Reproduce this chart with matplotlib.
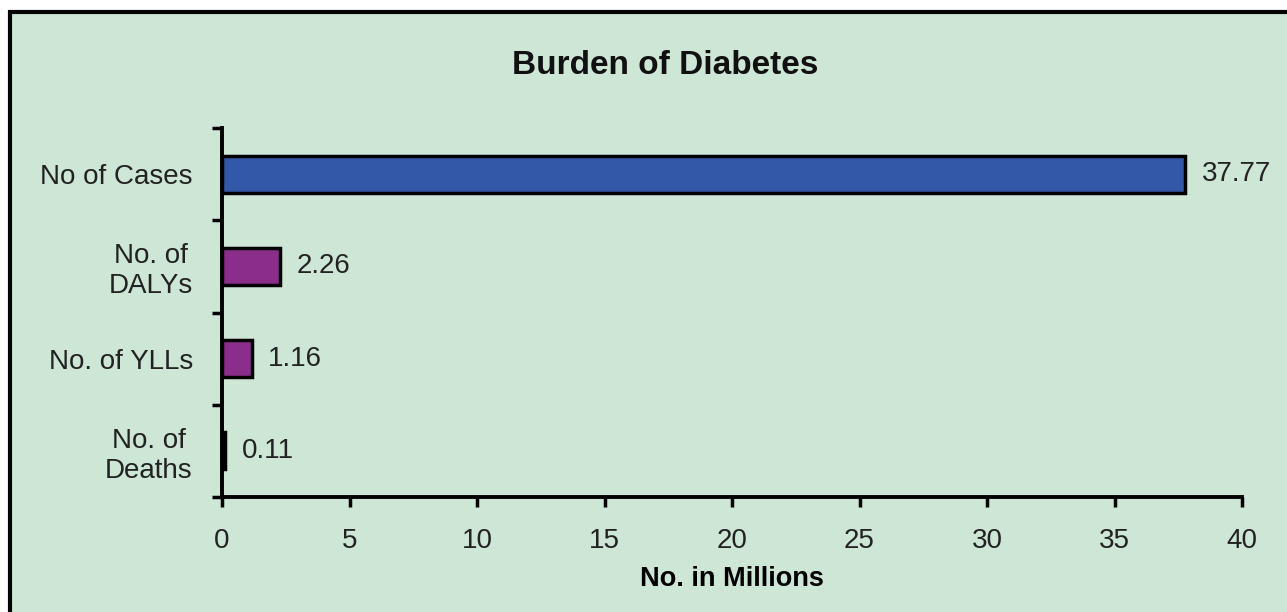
import matplotlib
matplotlib.use("Agg")
import matplotlib.pyplot as plt
from matplotlib.patches import Rectangle

categories = ["No of Cases", "No. of\nDALYs", "No. of YLLs", "No. of\nDeaths"]
values = [37.77, 2.26, 1.16, 0.11]
labels = ["37.77", "2.26", "1.16", "0.11"]
colors = ["#3358A8", "#8B2E8B", "#8B2E8B", "#8B2E8B"]
xticks = [0, 5, 10, 15, 20, 25, 30, 35, 40]

plt.rcParams['font.family'] = ['Liberation Sans', 'DejaVu Sans']
bg = "#CDE6D6"
fs = 20

fig = plt.figure(figsize=(12.87, 6.12), dpi=100)
fig.patch.set_facecolor("white")
W, H = 1287, 612
border = Rectangle((10 / W, -0.1), 1.2, (H - 12) / H + 0.1,
                   transform=fig.transFigure, facecolor=bg,
                   edgecolor="black", linewidth=3, zorder=-10)
fig.patches.append(border)

ax = fig.add_axes([222 / W, 1 - 497 / H, (1242 - 222) / W, (497 - 128) / H])
ax.set_zorder(5)
ax.set_facecolor("none")
ypos = list(range(len(categories)))
ax.barh(ypos, values, height=0.4, color=colors, edgecolor="black", linewidth=2.5, zorder=3)
for y, v, lab in zip(ypos, values, labels):
    ax.text(v + 0.65, y, lab, va="center", ha="left", fontsize=fs, color="#222222")

ax.set_ylim(len(categories) - 0.5, -0.5)
ax.set_xlim(0, 40)
ax.set_xticks(xticks)
ax.set_xticklabels([str(t) for t in xticks], fontsize=fs, color="#222222")
ax.set_yticks([y for y in ypos])
ax.set_yticklabels(categories, fontsize=fs, color="#222222", multialignment="center")
ax.set_yticks([y - 0.5 for y in ypos] + [len(categories) - 0.5], minor=True)
ax.tick_params(axis="y", which="major", length=0, pad=21)
ax.tick_params(axis="y", which="minor", length=7, width=2.5, direction="out")
ax.tick_params(axis="x", length=7, width=2.5, direction="out", pad=15)
for s in ["top", "right"]:
    ax.spines[s].set_visible(False)
for s in ["left", "bottom"]:
    ax.spines[s].set_linewidth(2.8)

ax.set_xlabel("No. in Millions", fontsize=19.5, fontweight="bold", labelpad=9)
fig.text(665 / W, 1 - 66 / H, "Burden of Diabetes", ha="center", va="center",
         fontsize=24, fontweight="bold", color="#111111")

fig.savefig("out.png", dpi=100, facecolor=fig.get_facecolor())
